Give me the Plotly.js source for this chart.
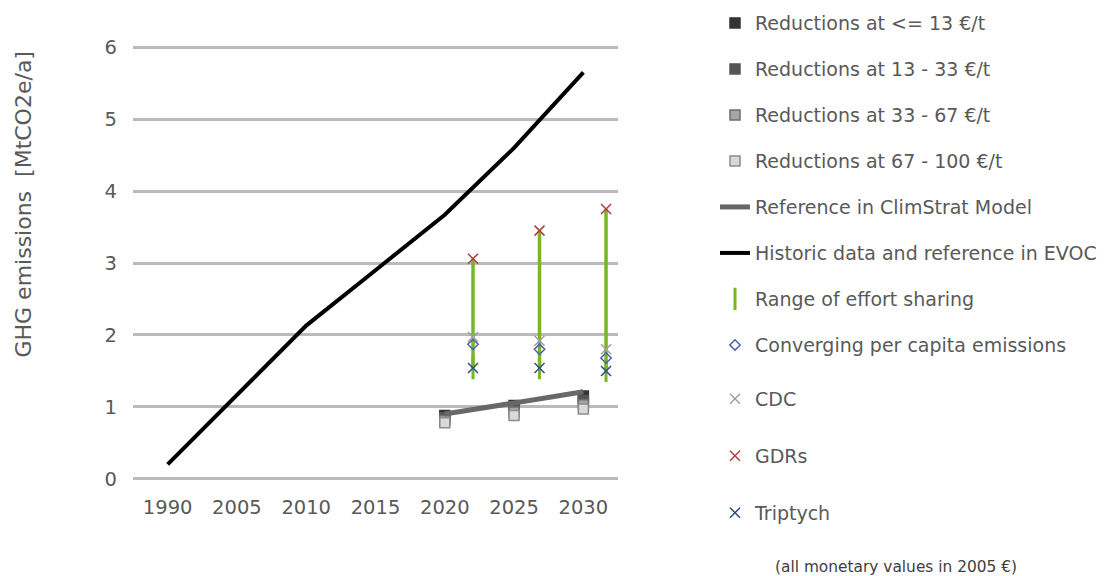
<!DOCTYPE html>
<html>
<head>
<meta charset="utf-8">
<script src="https://cdn.plot.ly/plotly-3.0.1.min.js"></script>
<style>html,body{margin:0;padding:0;background:#fff;}#chart{width:1113px;height:576px;}</style>
</head>
<body>
<div id="chart"></div>
<script>
// ---- data ----
var categories = ['1990', '2005', '2010', '2015', '2020', '2025', '2030'];
var historicEVOC = [0.2, 1.17, 2.13, 2.9, 3.67, 4.6, 5.65];
var referenceClimStrat = [null, null, null, null, 0.9, 1.06, 1.21];
var red13 = [null, null, null, null, 0.88, 1.02, 1.15];
var red13to33 = [null, null, null, null, 0.85, 0.98, 1.09];
var red33to67 = [null, null, null, null, 0.81, 0.93, 1.03];
var red67to100 = [null, null, null, null, 0.78, 0.88, 0.97];

var effortYears = [2020, 2025, 2030];
var converging = [1.87, 1.80, 1.68];
var cdc = [1.97, 1.92, 1.80];
var gdrs = [3.06, 3.45, 3.75];
var triptych = [1.54, 1.54, 1.50];

var seriesNames = [
  'Reductions at <= 13 €/t',
  'Reductions at 13 - 33 €/t',
  'Reductions at 33 - 67 €/t',
  'Reductions at 67 - 100 €/t',
  'Reference in ClimStrat Model',
  'Historic data and reference in EVOC',
  'Range of effort sharing',
  'Converging per capita emissions',
  'CDC',
  'GDRs',
  'Triptych'
];
var footnote = '(all monetary values in 2005 €)';
var yTitle = 'GHG emissions\u00a0\u00a0[MtCO2e/a]';

// ---- styling ----
var FONT = 'DejaVu Sans, Verdana, sans-serif';
var TXT = '#595959';
var green = '#78b52a';

function redTrace(vals, name, fill, border, g) {
  return {
    type: 'scatter', mode: 'markers', x: categories, y: vals, name: name,
    legendgroup: g, xaxis: 'x', yaxis: 'y',
    marker: {symbol: 'square', size: 10, color: fill, line: {color: border, width: 1.5}}
  };
}

var rangeHigh = gdrs.map(function (v, i) { return v - triptych[i]; });
var rangeZero = gdrs.map(function () { return 0; });

var traces = [
  redTrace(red13, seriesNames[0], '#333333', '#333333', 'g1'),
  redTrace(red13to33, seriesNames[1], '#555555', '#555555', 'g2'),
  redTrace(red33to67, seriesNames[2], '#a6a6a6', '#6e6e6e', 'g3'),
  redTrace(red67to100, seriesNames[3], '#d9d9d9', '#8c8c8c', 'g4'),
  {
    type: 'scatter', mode: 'lines', x: categories, y: referenceClimStrat, name: seriesNames[4],
    legendgroup: 'g5', line: {color: '#686868', width: 5}
  },
  {
    type: 'scatter', mode: 'lines', x: categories, y: historicEVOC, name: seriesNames[5],
    legendgroup: 'g6', line: {color: '#000000', width: 4}
  },
  {
    type: 'scatter', mode: 'markers', x: effortYears, y: triptych, name: seriesNames[6],
    legendgroup: 'g7', xaxis: 'x2',
    marker: {symbol: 'line-ns-open', size: 16, color: green, line: {color: green, width: 3}},
    error_y: {type: 'data', symmetric: false, array: rangeHigh, arrayminus: rangeZero,
              width: 0, thickness: 3.5, color: green}
  },
  {
    type: 'scatter', mode: 'markers', x: effortYears, y: converging, name: seriesNames[7],
    legendgroup: 'g8', xaxis: 'x2',
    marker: {symbol: 'diamond-open', size: 8, color: '#4a62a8', line: {color: '#4a62a8', width: 1.5}}
  },
  {
    type: 'scatter', mode: 'markers', x: effortYears, y: cdc, name: seriesNames[8],
    legend: 'legend2', legendgroup: 'h1', xaxis: 'x2',
    marker: {symbol: 'x-thin-open', size: 10, color: '#a0a0a0', line: {color: '#a0a0a0', width: 1.5}}
  },
  {
    type: 'scatter', mode: 'markers', x: effortYears, y: gdrs, name: seriesNames[9],
    legend: 'legend2', legendgroup: 'h2', xaxis: 'x2',
    marker: {symbol: 'x-thin-open', size: 10, color: '#b04040', line: {color: '#b04040', width: 1.5}}
  },
  {
    type: 'scatter', mode: 'markers', x: effortYears, y: triptych, name: seriesNames[10],
    legend: 'legend2', legendgroup: 'h3', xaxis: 'x2',
    marker: {symbol: 'x-thin-open', size: 10, color: '#2f4f82', line: {color: '#2f4f82', width: 1.5}}
  }
];

var layout = {
  width: 1113, height: 576,
  margin: {l: 133, r: 495, t: 45, b: 95, pad: 0, autoexpand: false},
  paper_bgcolor: '#ffffff', plot_bgcolor: '#ffffff',
  font: {family: FONT, size: 19, color: TXT},
  showlegend: true,
  xaxis: {
    type: 'category', categoryorder: 'array', categoryarray: categories,
    range: [-0.5, 6.5], showgrid: false, zeroline: false, showline: false,
    ticks: '', ticklabelstandoff: 12,
    tickfont: {family: FONT, size: 19.5, color: TXT}, fixedrange: true, automargin: false
  },
  xaxis2: {
    type: 'linear', overlaying: 'x', range: [1994.44, 2030.9], visible: false, fixedrange: true
  },
  yaxis: {
    range: [-0.03, 6.03], dtick: 1, tick0: 0, showgrid: true, gridcolor: '#bababa', gridwidth: 3,
    zeroline: false, showline: false, ticks: '', ticklabelstandoff: 15,
    tickfont: {family: FONT, size: 19.5, color: TXT},
    fixedrange: true, automargin: false
  },
  legend: {
    x: 1.2, xanchor: 'left', y: 0.681, yanchor: 'middle',
    traceorder: 'grouped', tracegroupgap: 18.3,
    font: {family: FONT, size: 19, color: TXT}, bgcolor: 'rgba(0,0,0,0)', borderwidth: 0
  },
  legend2: {
    x: 1.2, xanchor: 'left', y: 0.232, yanchor: 'top',
    traceorder: 'grouped', tracegroupgap: 29.3,
    font: {family: FONT, size: 19, color: TXT}, bgcolor: 'rgba(0,0,0,0)', borderwidth: 0
  },
  annotations: [
    {
      text: yTitle, xref: 'paper', yref: 'paper', x: -0.226, y: 0.635, xanchor: 'center', yanchor: 'middle',
      textangle: -90, showarrow: false, font: {family: FONT, size: 22, color: TXT}
    },
    {
      text: footnote, xref: 'paper', yref: 'paper', x: 1.573, y: -0.197, xanchor: 'center', yanchor: 'middle',
      showarrow: false, font: {family: FONT, size: 15.4, color: '#404040'}
    }
  ]
};

Plotly.newPlot('chart', traces, layout, {displayModeBar: false, staticPlot: true});
</script>
</body>
</html>
